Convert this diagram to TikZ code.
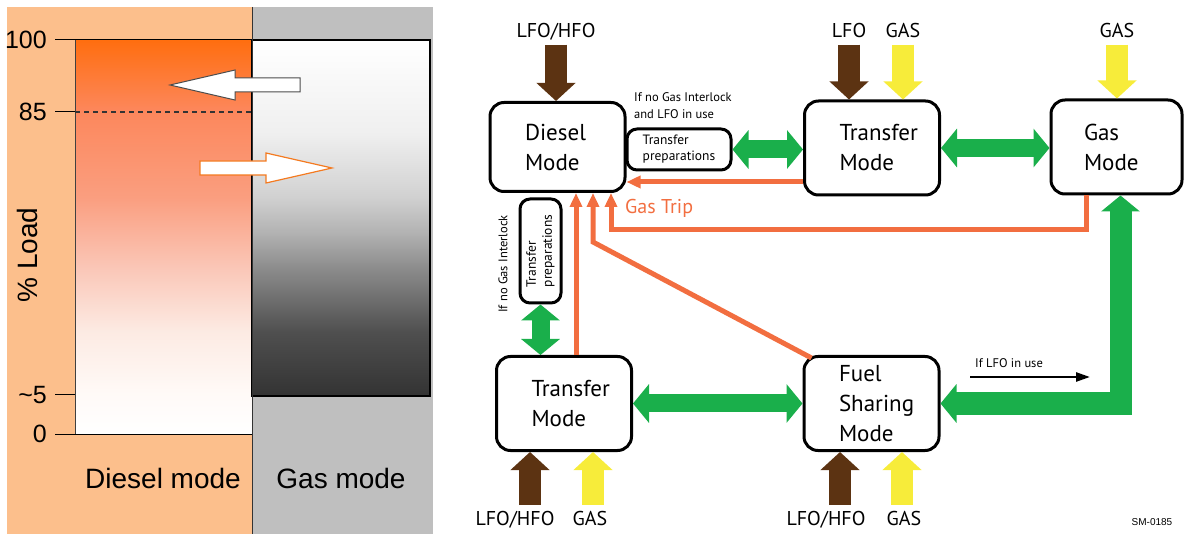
\documentclass[tikz,border=0pt]{standalone}
\usepackage{fontspec}
\setmainfont{PT Sans}
\newfontfamily\chartfont{Liberation Sans}
\usetikzlibrary{arrows.meta,positioning,calc}

\definecolor{bgorange}{RGB}{252,191,140}
\definecolor{bggray}{RGB}{191,191,191}
\definecolor{flowgreen}{RGB}{26,175,75}
\definecolor{tripred}{RGB}{242,110,64}
\definecolor{hfobrown}{RGB}{92,51,18}
\definecolor{gasyellow}{RGB}{247,236,58}
\definecolor{arroworange}{RGB}{244,122,32}

% fading of the two load bars
\pgfdeclareverticalshading{dieselfade}{100bp}{rgb(0bp)=(1,1,1); rgb(25bp)=(1,1,1);
  rgb(30bp)=(1,.98,.97); rgb(38bp)=(.99,.92,.89); rgb(46bp)=(.98,.78,.72);
  rgb(55bp)=(.98,.62,.5); rgb(66bp)=(.99,.53,.36); rgb(75bp)=(1,.43,.06); rgb(100bp)=(1,.43,.06)}
\pgfdeclareverticalshading{gasfade}{100bp}{rgb(0bp)=(.2,.2,.2); rgb(25bp)=(.2,.2,.2);
  rgb(34bp)=(.31,.31,.31); rgb(43bp)=(.55,.55,.55); rgb(48bp)=(.7,.7,.7);
  rgb(53bp)=(.82,.82,.82); rgb(62bp)=(.94,.94,.94); rgb(75bp)=(1,1,1); rgb(100bp)=(1,1,1)}

\tikzset{
  modebox/.style={draw, line width=3pt, rounded corners=14pt, minimum width=135pt,
    minimum height=94pt, text width=65pt, align=left, inner sep=4pt,
    font=\fontsize{23}{30}\selectfont},
  prepbox/.style={draw, line width=3pt, rounded corners=10pt, minimum width=104pt,
    minimum height=41pt, align=left, inner sep=2pt, font=\fontsize{13.5}{16}\selectfont},
  fuellbl/.style={font=\fontsize{20}{22}\selectfont, text height=15pt, text depth=4pt, inner sep=3pt},
  note/.style={font=\fontsize{12.5}{17}\selectfont, align=left, inner sep=0pt},
  chartlbl/.style={font=\chartfont\fontsize{28}{30}\selectfont},
  ticklbl/.style={font=\chartfont\fontsize{25}{28}\selectfont, anchor=east, inner sep=0pt},
  fuelin/.style={line width=22pt, -{Triangle[width=38pt,length=18pt]}},
  swap/.style={flowgreen, line width=18pt, {Triangle[width=38pt,length=16pt]}-{Triangle[width=38pt,length=16pt]}},
  trip/.style={tripred, line width=5pt, -{Triangle[width=12pt,length=14pt]}},
}

\begin{document}
\begin{tikzpicture}[x=1pt, y=-1pt]
    \useasboundingbox (0,0) rectangle (1186,534);

    % Left: load chart
    \fill[bgorange] (7,7) rectangle (252,534);
    \fill[bggray] (252,7) rectangle (433,534);
    \shade[shading=dieselfade] (75,40) rectangle (252,434);
    \shade[shading=gasfade] (252,40) rectangle (430,396);
    \draw[line width=1.5pt] (252,40) rectangle (430,396);
    \draw[black!75, line width=1pt] (75,40) -- (75,434);
    \draw[black!80, line width=1pt] (252,7) -- (252,534);
    \draw[black!80, line width=1.2pt, dash pattern=on 5pt off 4pt] (75,112) -- (252,112);

    \foreach \yy/\txt in {40/100, 112/85, 395/{\textasciitilde5}, 434/0} {
        \draw[line width=1pt] (55,\yy) -- (75,\yy);
        \node[ticklbl] at (47,\yy) {\txt};
    }
    \draw[line width=1pt] (75,40) -- (252,40);
    \draw[line width=1pt] (75,434) -- (252,434);

    \node[chartlbl, rotate=90] (loadlbl) at (27,255) {\% Load};
    \node[chartlbl] (diesellbl) at (163,478) {Diesel mode};
    \node[chartlbl] (gaslbl) at (341,478) {Gas mode};

    % changeover arrows
    \draw[black!70, fill=white, line width=1pt] (170,85) -- (235,70) -- (235,78) -- (300,78)
        -- (300,92) -- (235,92) -- (235,100) -- cycle;
    \draw[arroworange, fill=white, line width=1.2pt] (332,168) -- (266,153) -- (266,161) -- (200,161)
        -- (200,175) -- (266,175) -- (266,183) -- cycle;

    % Right: operating modes
    \node[modebox, minimum height=89pt] (diesel) at (557.5,147) {Diesel\\Mode};
    \node[modebox] (trTop) at (872,148) {Transfer\\Mode};
    \node[modebox, minimum width=131pt] (gas) at (1116.5,147) {Gas\\Mode};
    \node[modebox] (trBot) at (564,403.5) {Transfer\\Mode};
    \node[modebox] (fuel) at (871.5,403.5) {Fuel\\Sharing\\Mode};

    \node[prepbox] (prepTop) at (679,149.5) {Transfer\\preparations};
    \node[prepbox, rotate=90] (prepV) at (540.5,251) {Transfer\\preparations};

    \node[note, anchor=west] (noteTop) at (634,106) {If no Gas Interlock\\and LFO in use};
    \node[note, rotate=90] (noteV) at (503,264) {If no Gas Interlock};
    \node[note, anchor=west] (noteLfo) at (975,363) {If LFO in use};
    \node[tripred, anchor=west, font=\fontsize{20}{22}\selectfont, inner sep=0pt] (triplbl) at (625,208) {Gas Trip};

    % fuel supply
    \node[fuellbl] (inD) at (556,32) {LFO/HFO};
    \node[fuellbl] (inTL) at (849,32) {LFO};
    \node[fuellbl] (inTG) at (903,32) {GAS};
    \node[fuellbl] (inG) at (1117,32) {GAS};
    \node[fuellbl] (inBL) at (515,520) {LFO/HFO};
    \node[fuellbl] (inBG) at (590,520) {GAS};
    \node[fuellbl] (inFL) at (826,520) {LFO/HFO};
    \node[fuellbl] (inFG) at (904,520) {GAS};
    \coordinate (tBL) at (530,505);
    \coordinate (tBG) at (593,505);
    \coordinate (tFL) at (840,505);
    \coordinate (tFG) at (902,505);

    \draw[fuelin, hfobrown] (inD.south) -- (inD.south |- diesel.north);
    \draw[fuelin, hfobrown] (inTL.south) -- (inTL.south |- trTop.north);
    \draw[fuelin, gasyellow] (inTG.south) -- (inTG.south |- trTop.north);
    \draw[fuelin, gasyellow] (inG.south) -- (inG.south |- gas.north);
    \draw[fuelin, hfobrown] (tBL) -- (tBL |- trBot.south);
    \draw[fuelin, gasyellow] (tBG) -- (tBG |- trBot.south);
    \draw[fuelin, hfobrown] (tFL) -- (tFL |- fuel.south);
    \draw[fuelin, gasyellow] (tFG) -- (tFG |- fuel.south);

    % mode changes
    \draw[swap] (prepTop.east) -- (prepTop.east -| trTop.west);
    \draw[swap] (trTop.east) -- (trTop.east -| gas.west);
    \draw[swap] (trBot.east) -- (trBot.east -| fuel.west);
    \draw[swap] (prepV.west) -- (prepV.west |- trBot.north);
    \draw[swap, line width=22pt] (fuel.east) -| ([xshift=4pt]gas.south);
    \coordinate (lfoS) at (970,377);
    \coordinate (lfoE) at (1090,377);
    \draw[line width=2.5pt, -{Triangle[width=9pt,length=14pt]}] (lfoS) -- (lfoE);

    % gas trips back to diesel
    \coordinate (bendF) at (593,242);
    \coordinate (tripL) at (611,230);
    \draw[trip] ([yshift=-34pt]trTop.west) -- ([yshift=-34pt]trTop.west -| diesel.east);
    \draw[trip] ([xshift=12pt]trBot.north) -- ([xshift=12pt]trBot.north |- diesel.south);
    \draw[trip] ([xshift=9pt,yshift=-3pt]fuel.north west) -- (bendF) -- (bendF |- diesel.south);
    \draw[trip] ([xshift=-30pt]gas.south) |- (tripL) -- (tripL |- diesel.south);

    \node[font=\chartfont\fontsize{10}{12}\selectfont] (code) at (1152,522) {SM-0185};
\end{tikzpicture}
\end{document}
